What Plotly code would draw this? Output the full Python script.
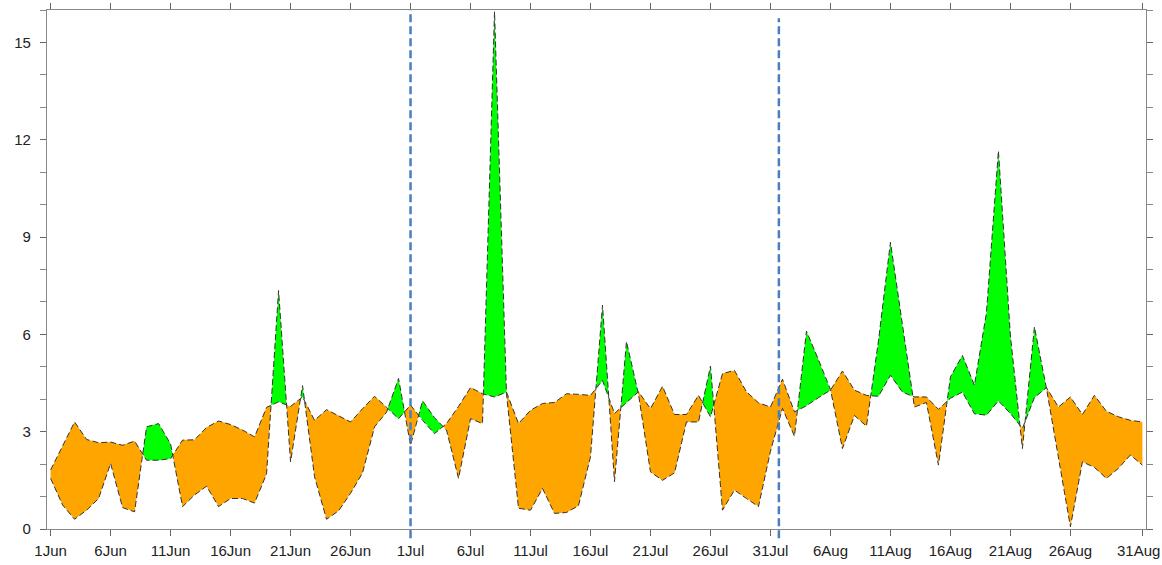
import plotly.graph_objects as go

# Day index (0 = 1 Jun) and two daily series
days = list(range(92))
smooth = [1.82, 2.55, 3.30, 2.76, 2.66, 2.68, 2.58, 2.71, 2.12, 2.12,
          2.17, 2.74, 2.75, 3.13, 3.33, 3.22, 3.05, 2.84, 3.75, 3.92,
          3.78, 4.07, 3.35, 3.68, 3.50, 3.30, 3.71, 4.09, 3.75, 3.40,
          3.82, 3.35, 2.94, 3.25, 3.78, 4.36, 4.17, 4.07, 4.22, 3.25,
          3.66, 3.87, 3.90, 4.17, 4.15, 4.12, 4.58, 3.56, 3.90, 4.23,
          3.71, 4.40, 3.53, 3.53, 4.12, 3.46, 4.79, 4.89, 4.23, 3.89,
          3.76, 4.62, 3.61, 3.80, 4.05, 4.28, 4.87, 4.28, 4.12, 4.09,
          4.74, 4.22, 4.07, 4.07, 3.69, 4.03, 4.22, 3.55, 3.51, 3.95,
          3.56, 3.10, 4.05, 4.36, 3.76, 4.07, 3.53, 4.12, 3.63, 3.46,
          3.35, 3.30]
varying = [1.56, 0.74, 0.30, 0.58, 0.94, 2.02, 0.66, 0.53, 3.15, 3.25,
           2.62, 0.69, 1.05, 1.32, 0.69, 0.94, 0.94, 0.80, 1.70, 7.35,
           2.07, 4.42, 1.61, 0.30, 0.56, 1.10, 1.73, 3.15, 3.60, 4.64,
           2.58, 3.95, 3.43, 3.05, 1.56, 3.40, 3.25, 15.95, 4.15, 0.64,
           0.58, 1.25, 0.48, 0.51, 0.72, 2.23, 6.90, 1.46, 5.78, 4.15,
           1.76, 1.50, 1.73, 3.30, 3.30, 5.02, 0.58, 1.20, 0.94, 0.69,
           2.40, 3.72, 2.86, 6.10, 5.22, 4.30, 2.48, 3.50, 3.17, 5.80,
           8.84, 6.30, 3.76, 3.90, 1.97, 4.69, 5.35, 4.43, 6.66, 11.66,
           5.95, 2.48, 6.23, 4.34, 2.23, 0.07, 2.07, 1.90, 1.56, 1.87,
           2.28, 1.97]

tick_days = [0, 5, 10, 15, 20, 25, 30, 35, 40, 45, 50, 55, 60, 65, 70, 75, 80, 85, 91]
tick_labels = ["1Jun", "6Jun", "11Jun", "16Jun", "21Jun", "26Jun", "1Jul", "6Jul",
               "11Jul", "16Jul", "21Jul", "26Jul", "31Jul", "6Aug", "11Aug",
               "16Aug", "21Aug", "26Aug", "31Aug"]
marker_days = [30, 60.7]

GREEN = "#00FF00"
ORANGE = "#FFA500"
FONT = "Liberation Sans, Arial, sans-serif"

# insert crossing points
px, ps, pv = [], [], []
for i in range(len(days) - 1):
    px.append(days[i]); ps.append(smooth[i]); pv.append(varying[i])
    d0 = varying[i] - smooth[i]
    d1 = varying[i + 1] - smooth[i + 1]
    if d0 * d1 < 0:
        t = d0 / (d0 - d1)
        xc = days[i] + t * (days[i + 1] - days[i])
        yc = smooth[i] + t * (smooth[i + 1] - smooth[i])
        px.append(xc); ps.append(yc); pv.append(yc)
px.append(days[-1]); ps.append(smooth[-1]); pv.append(varying[-1])

# group segments by sign
groups = []
cur = None
start = 0
for j in range(len(px) - 1):
    sgn = 1 if (pv[j] + pv[j + 1]) - (ps[j] + ps[j + 1]) > 0 else -1
    if cur is None:
        cur, start = sgn, j
    elif sgn != cur:
        groups.append((cur, start, j))
        cur, start = sgn, j
groups.append((cur, start, len(px) - 1))

fig = go.Figure()
for sgn, a, b in groups:
    xs = px[a:b + 1] + px[a:b + 1][::-1]
    ys = pv[a:b + 1] + ps[a:b + 1][::-1]
    fig.add_trace(go.Scatter(x=xs, y=ys, mode="lines", fill="toself",
                             fillcolor=GREEN if sgn > 0 else ORANGE,
                             line=dict(width=0), hoverinfo="skip",
                             showlegend=False))

for series in (smooth, varying):
    fig.add_trace(go.Scatter(x=days, y=series, mode="lines",
                             line=dict(color="#333333", width=1, dash="6px,3px"),
                             showlegend=False))

shapes = []
tops = [1.0, 0.984]
for xd, top in zip(marker_days, tops):
    shapes.append(dict(type="line", xref="x", yref="paper", x0=xd, x1=xd,
                       y0=-0.018, y1=top,
                       line=dict(color="#4A7EBF", width=2.5, dash="8px,4px")))

# last tick label sits at the page edge; draw it as an annotation, nudged to stay visible
shown_labels = tick_labels[:-1] + [""]
annotations = [dict(x=tick_days[-1], xref="x", y=-0.0405, yref="paper",
                    text=tick_labels[-1], showarrow=False, xanchor="center",
                    yanchor="middle", xshift=-4,
                    font=dict(family=FONT, size=15, color="#222222"))]

fig.update_layout(
    width=1162, height=565,
    margin=dict(l=47, r=16, t=10, b=36, autoexpand=False),
    paper_bgcolor="white", plot_bgcolor="white",
    font=dict(family=FONT, size=15, color="#222222"),
    shapes=shapes,
    annotations=annotations,
    showlegend=False,
)
fig.update_xaxes(range=[-0.3, 91.3], tickmode="array", tickvals=tick_days,
                 ticktext=shown_labels, ticks="outside", ticklen=6, tickcolor="#666",
                 showline=True, linecolor="#888", linewidth=1.2, mirror="ticks",
                 showgrid=False, zeroline=False, automargin=False,
                 ticklabelstandoff=2)
fig.update_yaxes(range=[0, 16], tickmode="array", tickvals=[0, 3, 6, 9, 12, 15],
                 ticks="outside", ticklen=6, tickcolor="#666",
                 minor=dict(tickvals=list(range(0, 17)), ticks="outside", ticklen=6, tickcolor="#888"),
                 showline=True, linecolor="#888", linewidth=1.2, mirror="ticks",
                 showgrid=False, zeroline=False, ticklabelstandoff=6, automargin=False)

fig.write_html("out.html")
